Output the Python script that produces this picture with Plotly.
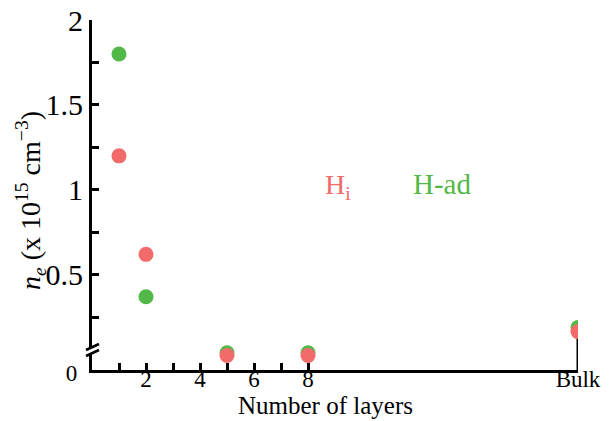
import plotly.graph_objects as go

# ---- data ----
layer_x = [1, 2, 5, 8, 18]
layer_labels = ["1", "2", "5", "8", "Bulk"]
h_ad = [1.80, 0.37, 0.04, 0.04, 0.19]
h_i = [1.20, 0.62, 0.025, 0.025, 0.165]

x_tickvals = [1, 2, 3, 4, 5, 6, 7, 8, 18]
x_ticktext = ["", "2", "", "4", "", "6", "", "8", "Bulk"]
Y_BOTTOM = -0.061
y_tickvals = [Y_BOTTOM, 0.25, 0.5, 0.75, 1.0, 1.25, 1.5, 1.75, 2.0]
y_ticktext = ['<span style="font-size:23px">0&nbsp;</span>', "", "0.5", "", "1", "", "1.5", "", "2"]

x_title = "Number of layers"
y_title = "<i>n</i><sub><i>e</i></sub> (x 10<sup>15</sup> cm<sup>−3</sup>)"

GREEN = "#52b848"
RED = "#f26a6a"
FONT = "Liberation Serif"

W, H = 610, 421
L, R, T, B = 92, 32, 20, 51
pw, ph = W - L - R, H - T - B


def px(xp):
    return (xp - L) / pw


def py(yp):
    return (H - B - yp) / ph


fig = go.Figure()
fig.add_trace(go.Scatter(x=layer_x, y=h_ad, mode="markers", name="H-ad",
                         marker=dict(color=GREEN, size=15, line=dict(width=0))))
fig.add_trace(go.Scatter(x=layer_x, y=h_i, mode="markers", name="Hi",
                         marker=dict(color=RED, size=15, line=dict(width=0))))

shapes = []
# vertical line at Bulk
shapes.append(dict(type="line", xref="x", yref="y", x0=layer_x[-1], x1=layer_x[-1],
                   y0=Y_BOTTOM, y1=h_i[-1], line=dict(color="black", width=3), layer="below"))
# axis break
shapes.append(dict(type="rect", xref="paper", yref="paper", x0=px(89), x1=px(96),
                   y0=py(353), y1=py(347), fillcolor="white", line=dict(width=0), layer="above"))
shapes.append(dict(type="line", xref="paper", yref="paper", x0=px(86), x1=px(99),
                   y0=py(350), y1=py(344), line=dict(color="black", width=2.5)))
shapes.append(dict(type="line", xref="paper", yref="paper", x0=px(86), x1=px(99),
                   y0=py(356), y1=py(350), line=dict(color="black", width=2.5)))

annotations = [
    dict(text="H<sub>i</sub>", x=px(338), y=py(186), xref="paper", yref="paper",
         xanchor="center", yanchor="middle",
         showarrow=False, font=dict(family=FONT, size=28, color=RED)),
    dict(text="H-ad", x=px(442), y=py(184), xref="paper", yref="paper",
         xanchor="center", yanchor="middle",
         showarrow=False, font=dict(family=FONT, size=29, color=GREEN)),
    # axis titles
    dict(text=x_title, x=px(325), y=py(406), xref="paper", yref="paper",
         xanchor="center", yanchor="middle", borderpad=0,
         showarrow=False, font=dict(family=FONT, size=25, color="black")),
    dict(text=y_title, x=px(31), y=py(200), xref="paper", yref="paper",
         xanchor="center", yanchor="middle", textangle=-90,
         showarrow=False, font=dict(family=FONT, size=28, color="black")),
]

fig.update_layout(
    width=W, height=H,
    margin=dict(l=L, r=R, t=T, b=B, autoexpand=False),
    plot_bgcolor="white", paper_bgcolor="white",
    showlegend=False,
    font=dict(family=FONT, size=24, color="black"),
    shapes=shapes,
    annotations=annotations,
    xaxis=dict(range=[0, 18], tickvals=x_tickvals, ticktext=x_ticktext,
               ticks="inside", ticklen=7, tickwidth=3, tickcolor="black",
               showline=True, linewidth=3, linecolor="black", showgrid=False,
               zeroline=False, tickfont=dict(size=23), automargin=False,
               ticklabelstandoff=-14),
    yaxis=dict(range=[Y_BOTTOM, 2.0], tickvals=y_tickvals, ticktext=y_ticktext,
               ticks="inside", ticklen=7, tickwidth=3, tickcolor="black",
               showline=True, linewidth=3, linecolor="black", showgrid=False,
               zeroline=False, tickfont=dict(size=30), automargin=False),
)

fig.write_html("out.html")
